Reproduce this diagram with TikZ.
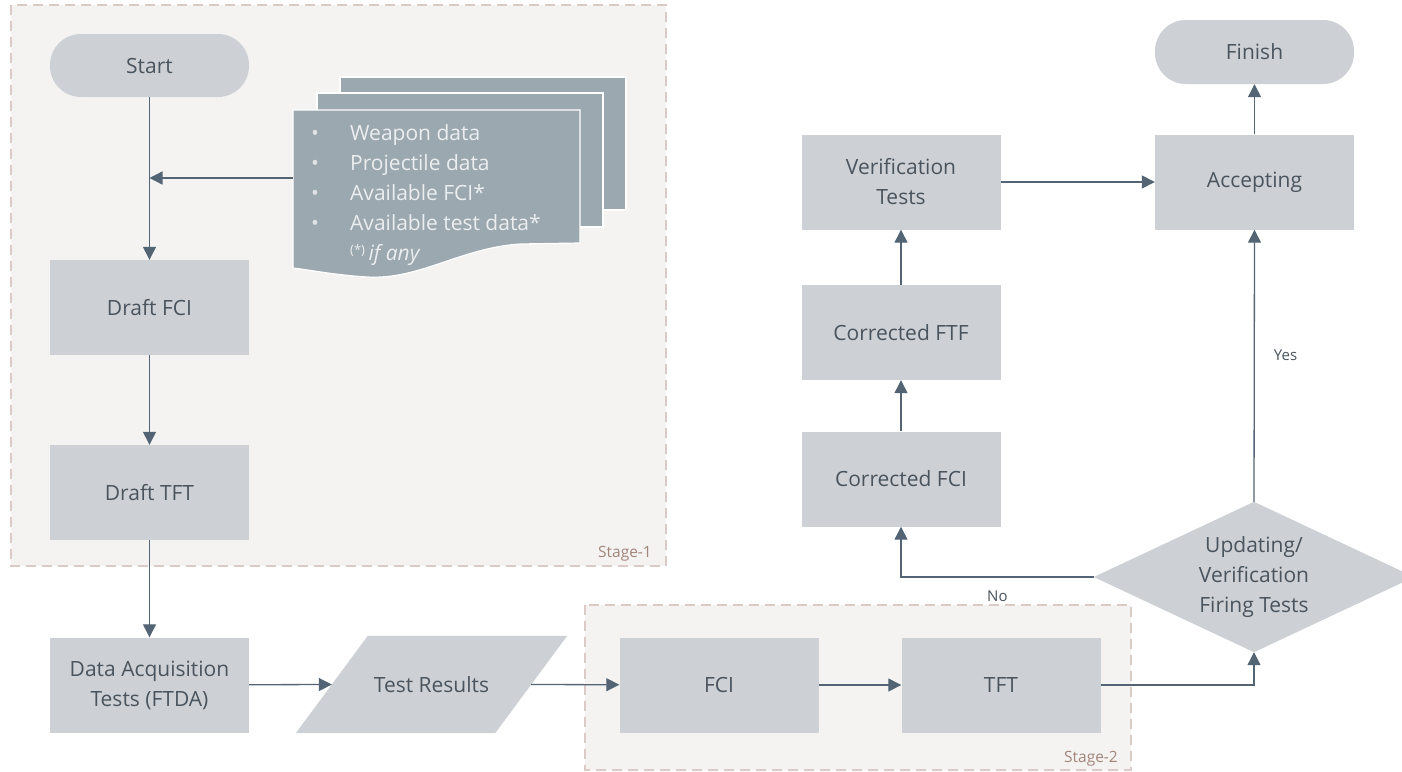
\documentclass[tikz,border=0pt]{standalone}
\usepackage{fontspec}
\setmainfont{Open Sans}
\usetikzlibrary{arrows.meta}

\definecolor{boxfill}{HTML}{CDD1D5}
\definecolor{docfill}{HTML}{9CA8AF}
\definecolor{doctext}{HTML}{EBEEF0}
\definecolor{linecol}{HTML}{536474}
\definecolor{textcol}{HTML}{4A545E}
\definecolor{stagefill}{HTML}{F4F3F2}
\definecolor{stagedash}{HTML}{DCCAC6}
\definecolor{stagetext}{HTML}{A3857A}

\tikzset{
  basefont/.style={font=\fontsize{21}{30}\selectfont, text=textcol},
  procbox/.style={basefont, rectangle, fill=boxfill, minimum width=199pt, minimum height=95pt, inner sep=2pt, align=center},
  termbox/.style={basefont, rectangle, rounded corners=31pt, fill=boxfill, minimum width=199pt, minimum height=63pt, inner sep=2pt},
  decbox/.style={basefont, rectangle, minimum width=320pt, minimum height=150pt, inner sep=0pt, align=center},
  iobox/.style={basefont, rectangle, minimum width=199pt, minimum height=97pt, inner sep=0pt},
  arr/.style={draw=linecol, line width=1.3pt, -{Triangle[length=13pt,width=13pt]}},
  stagebox/.style={fill=stagefill, draw=stagedash, line width=1.3pt, dash pattern=on 10pt off 6pt},
  stagelabel/.style={font=\fontsize{15.5}{18}\selectfont, text=stagetext, inner sep=0pt},
  edgelabel/.style={font=\fontsize{15}{18}\selectfont, text=textcol, inner sep=0pt},
  sheet/.style={fill=docfill, draw=white, line width=1.2pt},
}
\newcommand{\bulletitem}{\makebox[42pt][l]{\hspace{3pt}\textcolor{doctext!85!docfill}{\textbullet}}}

\begin{document}
\begin{tikzpicture}[x=1pt,y=-1pt]
\useasboundingbox (0,0) rectangle (1402,771);
\fill[white] (0,0) rectangle (1402,771);

% stage frames
\draw[stagebox] (11,5) rectangle (666,566);
\draw[stagebox] (585,605) rectangle (1131,770);
\node[stagelabel, anchor=base east] (st1) at (652,557) {Stage-1};
\node[stagelabel, anchor=base east] (st2) at (1118,762) {Stage-2};

% stacked input documents
\path[sheet] (340,77) rectangle (626,210);
\path[sheet] (317,93) rectangle (603,227);
\path[sheet] (293,110) -- (580,110) -- (580,243) -- (520,244)
  .. controls (460,248) and (420,280) .. (367,277)
  .. controls (335,275) and (310,270) .. (293,268) -- cycle;
\node[anchor=north west, inner sep=0pt, text=doctext, align=left,
      font=\fontsize{21}{30}\selectfont] (inputs) at (308,124)
  {\bulletitem Weapon data\\
   \bulletitem Projectile data\\
   \bulletitem Available FCI*\\
   \bulletitem Available test data*\\
   \makebox[42pt][l]{}{\fontsize{13}{13}\selectfont\raisebox{6pt}{(*)}}\,\textit{if any}};
\coordinate (docL) at (293,178);

% flow nodes
\node[termbox] (start) at (149.5,65.5) {Start};
\node[procbox] (dfci) at (149.5,307.5) {Draft FCI};
\node[procbox] (dtft) at (149.5,492.5) {Draft TFT};
\node[procbox] (daq) at (149.5,685) {Data Acquisition\\Tests (FTDA)};
\node[iobox] (tres) at (431.5,684.5) {};
\fill[boxfill] ([xshift=36pt]tres.north west) -- ([xshift=36pt]tres.north east)
  -- ([xshift=-36pt]tres.south east) -- ([xshift=-36pt]tres.south west) -- cycle;
\node[basefont] (tresl) at (tres.center) {Test Results};
\node[procbox] (fci) at (719,685) {FCI};
\node[procbox] (tft) at (1001,685) {TFT};
\node[decbox] (dec) at (1254,577) {};
\fill[boxfill] (dec.west) -- (dec.north) -- (dec.east) -- (dec.south) -- cycle;
\node[basefont, align=center] (decl) at (dec.center) {Updating/\\Verification\\Firing Tests};
\node[procbox] (cfci) at (901,479) {Corrected FCI};
\node[procbox] (cftf) at (901,332.5) {Corrected FTF};
\node[procbox] (vt) at (901,182) {Verification\\Tests};
\node[procbox] (acc) at (1254.5,182) {Accepting};
\node[termbox, minimum height=64pt] (fin) at (1254.5,52) {Finish};

% connectors
\draw[arr] (start) -- (dfci);
\draw[arr] (docL) -- (docL -| start);
\draw[arr] (dfci) -- (dtft);
\draw[arr] (dtft) -- (daq);
\draw[arr] (daq) -- (tres.west);
\draw[arr] (tres.east) -- (fci);
\draw[arr] (fci) -- (tft);
\draw[arr] (tft.east) -| (dec.south);
\draw[arr] (dec.north) -- node[edgelabel, pos=0.54, anchor=west, xshift=19pt] {Yes} (acc.south);
\draw[arr] (dec.west) -| node[edgelabel, pos=0.25, anchor=north, yshift=-13pt] {No} (cfci.south);
\draw[arr] (cfci) -- (cftf);
\draw[arr] (cftf) -- (vt);
\draw[arr] (vt) -- (acc);
\draw[arr] (acc) -- (fin);
\end{tikzpicture}
\end{document}
